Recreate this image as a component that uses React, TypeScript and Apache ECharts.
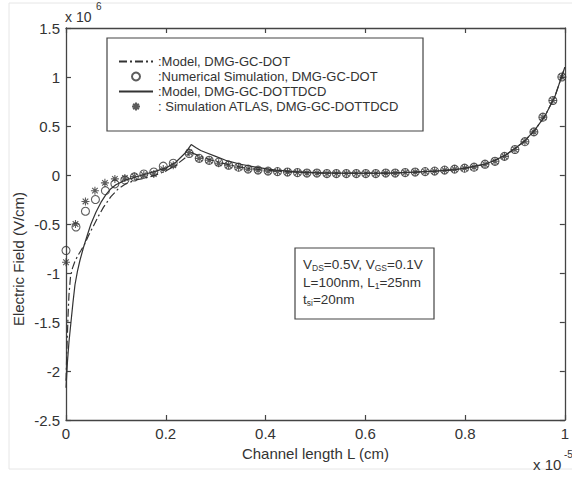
import React, { useEffect, useRef } from "react";
import * as echarts from "echarts";

const FONT = "'Liberation Sans', Arial, sans-serif";
const INK = "#333";

const xTicks = [0, 0.2, 0.4, 0.6, 0.8, 1];
const yTicks = [-2.5, -2, -1.5, -1, -0.5, 0, 0.5, 1, 1.5];

const seriesNames = [
  ":Model, DMG-GC-DOT",
  ":Numerical Simulation, DMG-GC-DOT",
  ":Model, DMG-GC-DOTTDCD",
  ": Simulation ATLAS, DMG-GC-DOTTDCD",
];

// x in units of 1e-5 cm, y in units of 1e6 V/cm
const modelDotX = [0, 0.002, 0.004, 0.006, 0.009, 0.013, 0.018, 0.024, 0.03, 0.037, 0.045, 0.055, 0.065, 0.075, 0.09, 0.105, 0.12, 0.14, 0.16, 0.18, 0.2, 0.22, 0.24, 0.25, 0.26, 0.28, 0.3, 0.33, 0.36, 0.4, 0.45, 0.5, 0.55, 0.6, 0.65, 0.7, 0.74, 0.78, 0.8, 0.82, 0.84, 0.86, 0.88, 0.9, 0.92, 0.94, 0.96, 0.98, 1.0];
const modelDotY = [-2.1, -1.75, -1.45, -1.22, -1.04, -0.95, -0.88, -0.82, -0.77, -0.71, -0.62, -0.52, -0.42, -0.33, -0.22, -0.14, -0.09, -0.05, -0.03, 0.0, 0.04, 0.1, 0.18, 0.23, 0.21, 0.17, 0.14, 0.1, 0.07, 0.05, 0.03, 0.02, 0.02, 0.02, 0.02, 0.03, 0.04, 0.055, 0.07, 0.09, 0.11, 0.15, 0.2, 0.27, 0.35, 0.46, 0.6, 0.8, 1.1];

const simDotX = [0, 0.02, 0.039, 0.059, 0.079, 0.098, 0.118, 0.137, 0.156, 0.176, 0.195, 0.215, 0.247, 0.267, 0.287, 0.306, 0.326, 0.346, 0.365, 0.385, 0.405, 0.424, 0.444, 0.464, 0.483, 0.503, 0.523, 0.542, 0.562, 0.582, 0.601, 0.621, 0.641, 0.66, 0.68, 0.7, 0.72, 0.739, 0.759, 0.779, 0.799, 0.818, 0.84, 0.86, 0.879, 0.9, 0.92, 0.938, 0.956, 0.976, 0.994];
const simDotY = [-0.77, -0.53, -0.37, -0.25, -0.16, -0.09, -0.05, -0.02, 0.01, 0.03, 0.09, 0.12, 0.22, 0.17, 0.15, 0.13, 0.1, 0.08, 0.06, 0.05, 0.04, 0.035, 0.03, 0.025, 0.02, 0.02, 0.015, 0.015, 0.015, 0.015, 0.015, 0.015, 0.02, 0.02, 0.025, 0.03, 0.035, 0.04, 0.05, 0.06, 0.07, 0.08, 0.11, 0.14, 0.19, 0.26, 0.34, 0.44, 0.59, 0.76, 1.0];

const modelTdcdX = [0, 0.003, 0.006, 0.01, 0.014, 0.018, 0.023, 0.028, 0.035, 0.043, 0.05, 0.06, 0.07, 0.08, 0.09, 0.1, 0.12, 0.14, 0.16, 0.18, 0.2, 0.22, 0.24, 0.251, 0.26, 0.27, 0.28, 0.3, 0.32, 0.35, 0.38, 0.42, 0.46, 0.5, 0.55, 0.6, 0.65, 0.7, 0.74, 0.78, 0.8, 0.82, 0.84, 0.86, 0.88, 0.9, 0.92, 0.94, 0.96, 0.98, 1.0];
const modelTdcdY = [-2.17, -1.9, -1.7, -1.5, -1.3, -1.12, -0.98, -0.87, -0.74, -0.61, -0.5, -0.38, -0.28, -0.2, -0.14, -0.1, -0.05, -0.02, 0.01, 0.04, 0.07, 0.13, 0.23, 0.31, 0.28, 0.25, 0.23, 0.19, 0.15, 0.11, 0.08, 0.05, 0.035, 0.025, 0.02, 0.02, 0.02, 0.03, 0.04, 0.055, 0.07, 0.09, 0.11, 0.15, 0.2, 0.27, 0.35, 0.46, 0.6, 0.8, 1.1];

const atlasX = [0, 0.019, 0.039, 0.058, 0.078, 0.098, 0.118, 0.137, 0.156, 0.176, 0.195, 0.215, 0.247, 0.267, 0.287, 0.306, 0.326, 0.346, 0.365, 0.385, 0.405, 0.424, 0.444, 0.464, 0.483, 0.503, 0.523, 0.542, 0.562, 0.582, 0.601, 0.621, 0.641, 0.66, 0.68, 0.7, 0.72, 0.739, 0.759, 0.779, 0.799, 0.818, 0.84, 0.86, 0.879, 0.9, 0.92, 0.938, 0.956, 0.976, 0.994];
const atlasY = [-0.89, -0.5, -0.27, -0.16, -0.08, -0.04, -0.03, -0.015, 0.0, 0.01, 0.06, 0.1, 0.23, 0.17, 0.15, 0.12, 0.1, 0.08, 0.06, 0.05, 0.04, 0.035, 0.03, 0.025, 0.02, 0.02, 0.015, 0.015, 0.015, 0.015, 0.015, 0.015, 0.02, 0.02, 0.025, 0.03, 0.035, 0.04, 0.05, 0.06, 0.07, 0.08, 0.11, 0.14, 0.19, 0.26, 0.34, 0.44, 0.59, 0.76, 1.0];

const zip = (xs: number[], ys: number[]) => xs.map((x, i) => [x, ys[i]]);

const ASTERISK = "path://M5,0L5,10M0,5L10,5M1.5,1.5L8.5,8.5M1.5,8.5L8.5,1.5";

export default function App() {
  const ref = useRef<HTMLDivElement>(null);
  useEffect(() => {
    const el = ref.current;
    if (!el) return;
    const chart = echarts.init(el, null, { renderer: "svg" });
    const mkLine = () => ({ show: true, onZero: false, lineStyle: { color: "#444", width: 1.3 } });
    const mkTick = () => ({ show: true, inside: true, length: 5, lineStyle: { color: "#444", width: 1.2 } });
    const hiddenSymbol = { color: "rgba(0,0,0,0)", borderColor: "rgba(0,0,0,0)", borderWidth: 0 };
    const option: any = {
      animation: false,
      backgroundColor: "#fff",
      textStyle: { fontFamily: FONT, color: INK },
      grid: { left: 66, right: 0, top: 28, bottom: 57, containLabel: false },
      legend: {
        orient: "vertical",
        left: 107,
        top: 38,
        data: [
          { name: seriesNames[0], itemStyle: hiddenSymbol },
          { name: seriesNames[1] },
          { name: seriesNames[2], itemStyle: hiddenSymbol },
          { name: seriesNames[3] },
        ],
        selectedMode: false,
        borderColor: "#444",
        borderWidth: 1.2,
        backgroundColor: "#fff",
        padding: [17, 24, 18, 11],
        itemWidth: 34,
        itemHeight: 8,
        itemGap: 2,
        textStyle: { fontSize: 13, color: INK, fontFamily: FONT },
      },
      xAxis: [
        {
          type: "value",
          min: xTicks[0],
          max: xTicks[xTicks.length - 1],
          interval: 0.2,
          position: "bottom",
          axisLine: mkLine(),
          axisTick: mkTick(),
          splitLine: { show: false },
          axisLabel: { fontSize: 15, color: INK, margin: 6, fontFamily: FONT },
          name: "Channel length L (cm)",
          nameLocation: "middle",
          nameGap: 25,
          nameTextStyle: { fontSize: 15, color: INK, fontFamily: FONT },
        },
        {
          type: "value",
          min: xTicks[0],
          max: xTicks[xTicks.length - 1],
          interval: 0.2,
          position: "top",
          axisLine: mkLine(),
          axisTick: mkTick(),
          splitLine: { show: false },
          axisLabel: { show: false },
        },
      ],
      yAxis: [
        {
          type: "value",
          min: yTicks[0],
          max: yTicks[yTicks.length - 1],
          interval: 0.5,
          position: "left",
          axisLine: mkLine(),
          axisTick: mkTick(),
          splitLine: { show: false },
          axisLabel: { fontSize: 15, color: INK, margin: 6, fontFamily: FONT },
        },
        {
          type: "value",
          min: yTicks[0],
          max: yTicks[yTicks.length - 1],
          interval: 0.5,
          position: "right",
          axisLine: mkLine(),
          axisTick: mkTick(),
          splitLine: { show: false },
          axisLabel: { show: false },
        },
      ],
      series: [
        {
          name: seriesNames[0],
          type: "line",
          data: zip(modelDotX, modelDotY),
          symbol: "none",
          itemStyle: { color: INK },
          lineStyle: { color: INK, width: 1.2, type: [8, 3, 2, 3] },
          z: 2,
        },
        {
          name: seriesNames[2],
          type: "line",
          data: zip(modelTdcdX, modelTdcdY),
          symbol: "none",
          itemStyle: { color: INK },
          lineStyle: { color: INK, width: 1.2, type: "solid" },
          z: 2,
        },
        {
          name: seriesNames[1],
          type: "scatter",
          data: zip(simDotX, simDotY),
          symbol: "circle",
          symbolSize: 8,
          itemStyle: { color: "rgba(0,0,0,0)", borderColor: INK, borderWidth: 1.1 },
          z: 3,
        },
        {
          name: seriesNames[3],
          type: "scatter",
          data: zip(atlasX, atlasY),
          symbol: ASTERISK,
          symbolSize: 8,
          itemStyle: { color: "rgba(0,0,0,0)", borderColor: INK, borderWidth: 1.1 },
          z: 4,
        },
      ],
      graphic: [
        {
          type: "rect",
          silent: true,
          z: -10,
          shape: { x: 9, y: 3, width: 600, height: 466 },
          style: { fill: "none", stroke: "#e6e6e6", lineWidth: 1 },
        },
        {
          type: "text",
          x: 65,
          y: 17,
          style: { text: "x 10", fontSize: 14, fontFamily: FONT, fill: INK, verticalAlign: "middle" },
        },
        {
          type: "text",
          x: 96,
          y: 6,
          style: { text: "6", fontSize: 10, fontFamily: FONT, fill: INK, verticalAlign: "middle" },
        },
        {
          type: "text",
          x: 533,
          y: 464,
          style: { text: "x 10", fontSize: 15, fontFamily: FONT, fill: INK, verticalAlign: "middle" },
        },
        {
          type: "text",
          x: 564,
          y: 454,
          style: { text: "-5", fontSize: 10, fontFamily: FONT, fill: INK, verticalAlign: "middle" },
        },
        {
          type: "text",
          x: 18,
          y: 259,
          rotation: Math.PI / 2,
          style: {
            text: "Electric Field (V/cm)",
            fontSize: 15,
            fontFamily: FONT,
            fill: INK,
            align: "center",
            verticalAlign: "middle",
          },
        },
        {
          type: "rect",
          z: 10,
          shape: { x: 295, y: 248, width: 139, height: 71 },
          style: { fill: "#fff", stroke: "#444", lineWidth: 1.2 },
        },
        {
          type: "text",
          z: 11,
          x: 303,
          y: 264,
          style: {
            text: "V{s|DS}=0.5V, V{s|GS}=0.1V",
            fontSize: 13.5,
            fontFamily: FONT,
            fill: INK,
            verticalAlign: "middle",
            lineHeight: 16,
            rich: { s: { fontSize: 8.5, fontFamily: FONT, fill: INK, verticalAlign: "bottom", lineHeight: 16 } },
          },
        },
        {
          type: "text",
          z: 11,
          x: 303,
          y: 282,
          style: {
            text: "L=100nm, L{s|1}=25nm",
            fontSize: 13.5,
            fontFamily: FONT,
            fill: INK,
            verticalAlign: "middle",
            lineHeight: 16,
            rich: { s: { fontSize: 8.5, fontFamily: FONT, fill: INK, verticalAlign: "bottom", lineHeight: 16 } },
          },
        },
        {
          type: "text",
          z: 11,
          x: 303,
          y: 299,
          style: {
            text: "t{s|si}=20nm",
            fontSize: 13.5,
            fontFamily: FONT,
            fill: INK,
            verticalAlign: "middle",
            lineHeight: 16,
            rich: { s: { fontSize: 8.5, fontFamily: FONT, fill: INK, verticalAlign: "bottom", lineHeight: 16 } },
          },
        },
      ],
    };
    chart.setOption(option);
    return () => chart.dispose();
  }, []);
  return (
    <div
      ref={ref}
      style={{ position: "fixed", left: 0, top: 0, width: 572, height: 477, background: "#fff" }}
    />
  );
}
